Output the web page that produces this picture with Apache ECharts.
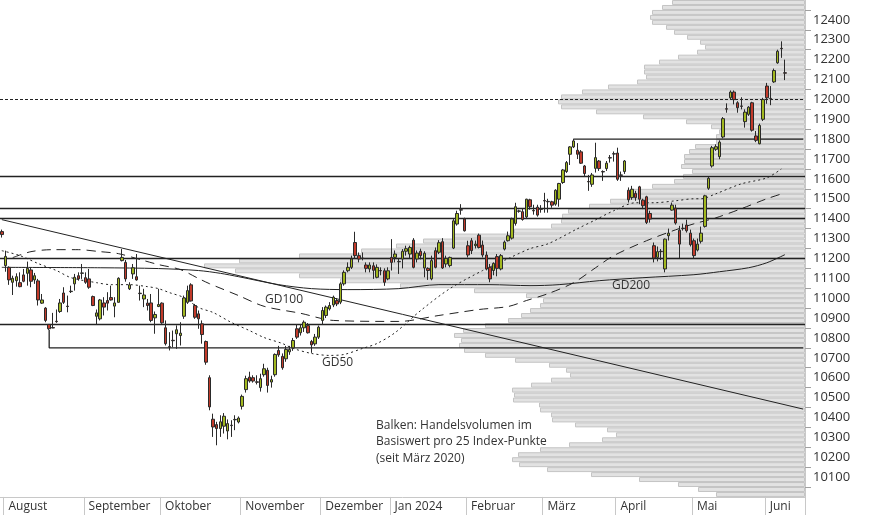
<!DOCTYPE html>
<html><head><meta charset="utf-8">
<script src="https://cdn.jsdelivr.net/npm/echarts@6/dist/echarts.min.js"></script>
<style>html,body{margin:0;padding:0;background:#fff}#c{width:874px;height:515px}</style>
</head><body><div id="c"></div>
<script>
// ---- categories (trading days per month) ----
const monthNames = ['Juli','August','September','Oktober','November','Dezember','Jan 2024','Februar','März','April','Mai','Juni'];
const monthDays  = [1,22,21,22,22,19,21,21,20,21,20,6];
const emptySlots = 5;

// ---- daily candles: [open, high, low, close] ----
const ohlc = [
[11335,11345,11305,11320],
[11164,11239,11133,11210],[11155,11160,11067,11092],[11080,11113,11016,11100],[11088,11125,11058,11108],[11078,11130,11055,11058],
[11117,11147,11080,11085],[11125,11184,11063,11150],[11142,11155,11055,11085],[11092,11127,11072,11113],[11087,11097,10963,10991],
[10975,11021,10971,10991],[10950,10955,10879,10888],[10868,10870,10840,10846],[10852,10926,10849,10850],[10884,10943,10876,10882],
[10933,10996,10926,10976],[11026,11055,10971,10979],[10960,11013,10929,10958],[11033,11063,11026,11035],[11072,11122,11038,11105],
[11113,11130,11088,11097],[11125,11172,11097,11127],
[11103,11130,11072,11080],[11097,11147,11047,11055],[11008,11013,10960,10963],[10909,10943,10866,10926],[10896,10996,10888,10991],
[10976,11005,10913,10955],[10988,11030,10938,10975],[11003,11063,10988,10991],[10960,11005,10904,10976],[10979,11105,10979,11100],
[11189,11247,11185,11205],[11180,11192,11083,11097],[11047,11080,11041,11067],[11122,11172,11097,11153],[11108,11222,11088,11092],
[11025,11063,10988,11023],[10996,11047,10955,11016],[10975,10996,10938,10963],[10976,11021,10879,10888],[10901,10933,10821,10918],
[10958,11047,10955,10968],
[10975,10979,10871,10876],[10851,10888,10762,10771],[10756,10829,10737,10754],[10788,10837,10754,10786],[10821,10863,10745,10841],
[10812,10879,10762,10824],[10909,11013,10896,11001],[10979,11063,10971,11038],[11067,11075,10983,10986],[10963,10971,10896,10904],
[10921,10938,10846,10896],[10871,10888,10771,10817],[10782,10787,10665,10678],[10600,10612,10436,10453],[10391,10419,10302,10352],
[10364,10378,10260,10344],[10344,10411,10302,10378],[10356,10422,10319,10406],[10332,10390,10290,10369],[10361,10386,10302,10359],
[10388,10411,10336,10390],[10377,10405,10370,10397],
[10456,10515,10440,10506],[10540,10610,10525,10595],[10603,10630,10575,10583],[10600,10612,10575,10583],[10579,10612,10566,10577],
[10550,10620,10530,10595],[10615,10670,10605,10645],[10637,10650,10525,10561],[10578,10610,10550,10590],[10615,10722,10605,10717],
[10737,10760,10705,10715],[10707,10722,10640,10650],[10695,10760,10680,10742],[10730,10760,10715,10742],[10750,10800,10735,10787],
[10846,10870,10795,10804],[10826,10870,10812,10851],[10851,10888,10830,10879],[10862,10875,10822,10826],[10782,10790,10725,10765],
[10770,10820,10760,10804],[10804,10862,10795,10854],
[10888,10955,10866,10938],[10913,10963,10900,10955],[10946,10980,10938,10963],[10966,11013,10955,11005],[10988,11000,10960,10971],
[10980,11080,10970,11072],[11072,11140,11063,11130],[11138,11180,11130,11155],[11155,11214,11147,11197],[11280,11334,11197,11214],
[11214,11230,11180,11197],[11202,11230,11190,11200],[11167,11180,11130,11150],[11147,11180,11130,11167],[11163,11180,11097,11140],
[11105,11170,11100,11155],[11139,11155,11115,11137],[11138,11150,11062,11080],[11097,11155,11090,11138],
[11205,11297,11139,11180],[11205,11240,11180,11222],[11185,11200,11122,11183],[11197,11247,11150,11236],[11236,11264,11214,11249],
[11222,11264,11200,11255],[11292,11302,11150,11155],[11197,11240,11180,11227],[11236,11249,11195,11214],[11152,11236,11105,11226],
[11150,11155,11092,11139],[11097,11214,11090,11189],[11239,11255,11150,11155],[11231,11292,11222,11279],[11284,11302,11147,11152],
[11172,11214,11155,11200],[11164,11209,11155,11205],[11252,11398,11247,11389],[11373,11440,11365,11426],[11445,11473,11420,11443],
[11398,11405,11335,11339],
[11264,11289,11205,11217],[11289,11302,11222,11239],[11264,11290,11250,11272],[11317,11325,11250,11255],[11267,11290,11205,11217],
[11217,11235,11140,11147],[11155,11172,11080,11097],[11139,11180,11115,11175],[11209,11222,11110,11150],[11147,11222,11140,11214],
[11247,11290,11240,11282],[11289,11335,11285,11314],[11302,11405,11295,11398],[11376,11480,11365,11460],[11439,11445,11430,11437],
[11435,11450,11390,11396],[11409,11500,11398,11498],[11495,11500,11445,11460],[11441,11470,11420,11439],[11458,11470,11410,11418],
[11449,11468,11430,11447],
[11491,11530,11430,11489],[11487,11500,11430,11485],[11485,11490,11455,11468],[11473,11548,11465,11543],[11498,11580,11460,11577],
[11582,11650,11575,11645],[11637,11690,11630,11682],[11724,11765,11670,11761],[11761,11802,11755,11791],[11744,11780,11700,11724],
[11736,11745,11675,11679],[11665,11670,11610,11627],[11587,11620,11540,11585],[11573,11630,11560,11620],[11653,11782,11632,11707],
[11690,11695,11640,11652],[11637,11643,11590,11635],[11652,11690,11640,11679],[11707,11720,11682,11705],[11727,11738,11687,11725],
[11730,11757,11590,11598],[11620,11637,11590,11618],[11637,11695,11625,11690],[11543,11557,11481,11495],[11506,11565,11495,11548],
[11527,11540,11490,11506],[11560,11565,11473,11498],[11493,11500,11448,11465],[11510,11515,11373,11381],[11426,11440,11380,11398],
[11264,11280,11180,11202],[11205,11260,11185,11234],[11236,11247,11192,11234],[11147,11300,11130,11297],[11314,11350,11290,11327],
[11443,11481,11440,11468],[11453,11470,11370,11378],[11342,11364,11202,11272],[11352,11375,11340,11350],[11368,11395,11330,11339],
[11327,11345,11260,11269],
[11289,11300,11197,11214],[11242,11300,11235,11272],[11286,11360,11275,11327],[11361,11520,11355,11515],[11553,11610,11545,11603],
[11665,11766,11657,11757],[11749,11774,11741,11762],[11712,11794,11699,11785],[11811,11911,11804,11903],[11953,11980,11933,11951],
[12008,12045,11999,12037],[12037,12045,11975,11999],[11983,11991,11933,11958],[11967,12011,11950,11965],[11888,11950,11858,11936],
[11925,11966,11917,11961],[11983,11988,11838,11845],[11816,11841,11785,11794],[11777,11878,11774,11869],[11900,12008,11891,11999],
[12067,12083,11978,12008],[12005,12067,11971,12003],[12088,12155,12083,12145],[12184,12250,12179,12242],[12257,12292,12209,12255],
[12134,12200,12097,12132]
];

// ---- moving averages, read at selected trading days: [dayIndex, value] ----
const gd50 = [[0,11239],[5,11214],[10,11174],[15,11139],[19,11103],[26,11078],[30,11068],[35,11068],[40,11058],[43,11048],[46,11028],[50,11003],[54,10953],[58,10928],[63,10878],[68,10837],[72,10802],[77,10772],[80,10747],[85,10722],[90,10712],[94,10717],[99,10747],[103,10772],[108,10827],[115,10938],[123,11048],[132,11139],[139,11199],[145,11249],[150,11274],[158,11349],[163,11394],[168,11440],[174,11480],[179,11480],[185,11490],[190,11500],[192,11500],[196,11525],[203,11575],[210,11605],[214,11650]];
const gd100 = [[3,11204],[8,11234],[14,11244],[21,11244],[27,11234],[32,11224],[39,11189],[43,11169],[49,11144],[54,11099],[57,11073],[65,11013],[72,10959],[82,10924],[91,10888],[109,10883],[120,10913],[131,10943],[139,10958],[144,10988],[150,11023],[157,11078],[163,11153],[168,11214],[177,11289],[185,11344],[190,11374],[196,11404],[203,11450],[210,11500],[215,11530]];
const gd200 = [[0,11155],[27,11153],[43,11149],[54,11139],[60,11125],[65,11108],[76,11068],[85,11048],[95,11043],[109,11048],[120,11068],[134,11068],[145,11063],[153,11068],[164,11088],[176,11103],[190,11118],[197,11133],[205,11153],[210,11178],[215,11219]];

// ---- drawn lines ----
const trendLine = [[0,11395],[220,10442]];
const levelsFull = [11615,11453,11400,11200,10870];
const levelDashed = 12000;
const level11800 = [[157,11800],[220,11800]];
const level10750 = [[13,10840],[13,10750],[220,10750]];

// ---- volume profile per 25 index points, from 10000 upward ----
const volStart = 10000, volStep = 25;
const volume = [89,107,127,166,214,258,286,293,287,265,236,203,189,198,230,253,254,265,266,292,
291,293,274,254,235,239,256,290,320,341,346,344,351,342,320,297,284,275,265,262,
279,331,405,465,506,570,601,566,506,444,409,382,351,291,254,244,243,237,216,195,
178,173,153,131,122,113,124,121,121,116,110,89,89,86,94,119,162,209,244,247,
244,223,197,168,159,161,161,146,127,108,100,105,118,131,139,153,155,153,143,133];

// ---- build categories ----
const categories = [], monthStart = {};
monthNames.forEach((m, k) => {
  for (let d = 0; d < monthDays[k]; d++) {
    if (d === 0 && k > 0) monthStart[categories.length] = m;
    categories.push(m + ' ' + (d + 1));
  }
});
for (let k = 0; k < emptySlots; k++) categories.push('leer' + k);
const volLevels = volume.map((_, k) => String(volStart + k * volStep));

const F = '"Open Sans", sans-serif';
const chart = echarts.init(document.getElementById('c'));
chart.setOption({
  animation: false,
  backgroundColor: '#fff',
  grid: [
    {left: 0, right: 69, top: -1.35, bottom: 18.05},
    {left: 0, right: 69, top: -1.35, bottom: 18.05}
  ],
  xAxis: [
    {gridIndex: 0, type: 'category', data: categories, boundaryGap: true,
     axisLine: {show: true, lineStyle: {color: '#c8c8c8'}},
     axisTick: {show: true, interval: (i) => monthStart[i] !== undefined, length: 20, lineStyle: {color: '#c8c8c8'}},
     axisLabel: {interval: (i) => monthStart[i] !== undefined, formatter: (v, i) => monthStart[i] || '',
       align: 'left', margin: 4, color: '#333', fontSize: 12, fontFamily: F, padding: [0,0,0,3]},
     splitLine: {show: false}},
    {gridIndex: 1, type: 'value', inverse: true, min: 0, max: 805, show: false}
  ],
  yAxis: [
    {gridIndex: 0, type: 'value', position: 'right', min: 10000, max: 12500, interval: 100,
     axisLabel: {showMinLabel: false, showMaxLabel: false, color: '#333', fontSize: 13, fontFamily: F, margin: 8,
       formatter: (v) => String(v)},
     axisTick: {show: false},
     minorTick: {show: true, splitNumber: 2, length: 6, lineStyle: {color: '#a0a0a0'}},
     axisLine: {show: true, lineStyle: {color: '#c8c8c8'}},
     splitLine: {show: false}},
    {gridIndex: 1, type: 'category', data: volLevels, boundaryGap: true, show: false}
  ],
  series: [
    {type: 'bar', xAxisIndex: 1, yAxisIndex: 1, data: volume, barCategoryGap: '0%', silent: true, z: 1,
     itemStyle: {color: '#e2e2e2', borderColor: '#c4c4c4', borderWidth: 1}},
    {type: 'line', data: gd200, symbol: 'none', smooth: 0.3, silent: true, z: 3,
     lineStyle: {color: '#222', width: 1}},
    {type: 'line', data: gd100, symbol: 'none', smooth: 0.3, silent: true, z: 3,
     lineStyle: {color: '#222', width: 1, type: [9, 6]}},
    {type: 'line', data: gd50, symbol: 'none', smooth: 0.3, silent: true, z: 3,
     lineStyle: {color: '#222', width: 1, type: [2, 3]}},
    {type: 'line', data: trendLine, symbol: 'none', silent: true, z: 3,
     lineStyle: {color: '#222', width: 1}},
    {type: 'line', data: level11800, symbol: 'none', silent: true, z: 3,
     lineStyle: {color: '#222', width: 1.3}},
    {type: 'line', data: level10750, symbol: 'none', silent: true, z: 3,
     lineStyle: {color: '#222', width: 1.3}},
    {type: 'candlestick', data: ohlc.map(([o, h, l, c]) => [o, c, l, h]), barWidth: 3, z: 5, silent: true,
     itemStyle: {color: '#a2b81f', color0: '#c23a2a', borderColor: '#2a2a2a', borderColor0: '#2a2a2a', borderWidth: 1},
     markLine: {silent: true, symbol: 'none', label: {show: false}, z: 4,
       lineStyle: {color: '#222', width: 1.3, type: 'solid'},
       data: levelsFull.map(v => ({yAxis: v})).concat([{yAxis: levelDashed, lineStyle: {type: [3, 2], width: 1}}])}}
  ],
  graphic: [
    {type: 'text', left: 265, top: 294, z: 10, style: {text: 'GD100', fill: '#333', font: '12px ' + F}},
    {type: 'text', left: 322, top: 357, z: 10, style: {text: 'GD50', fill: '#333', font: '12px ' + F}},
    {type: 'text', left: 612, top: 280, z: 10, style: {text: 'GD200', fill: '#333', font: '12px ' + F}},
    {type: 'text', left: 376, top: 417, z: 10, style: {text: 'Balken: Handelsvolumen im\nBasiswert pro 25 Index-Punkte\n(seit März 2020)', fill: '#333', font: '12px ' + F, lineHeight: 16.5}}
  ]
});
</script></body></html>
